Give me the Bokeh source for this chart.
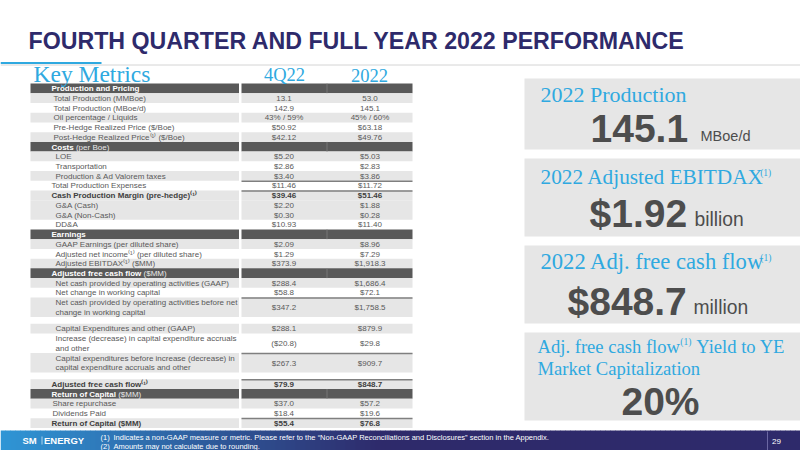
from bokeh.plotting import figure
from bokeh.models import ColumnDataSource
from bokeh.core.properties import value
from bokeh.embed import file_html
from bokeh.resources import INLINE

# ---------------------------------------------------------------
# data
# ---------------------------------------------------------------
title = "FOURTH QUARTER AND FULL YEAR 2022 PERFORMANCE"
table_title = "Key Metrics"
col_heads = ["4Q22", "2022"]

# "|" splits a bold lead-in from a plain tail in section headers
labels = [
    "Production and Pricing",
    "Total Production (MMBoe)",
    "Total Production (MBoe/d)",
    "Oil percentage / Liquids",
    "Pre-Hedge Realized Price ($/Boe)",
    "Post-Hedge Realized Price⁽¹⁾ ($/Boe)",
    "Costs| (per Boe)",
    "LOE",
    "Transportation",
    "Production & Ad Valorem taxes",
    "Total Production Expenses",
    "Cash Production Margin (pre-hedge)⁽¹⁾",
    "G&A (Cash)",
    "G&A (Non-Cash)",
    "DD&A",
    "Earnings",
    "GAAP Earnings (per diluted share)",
    "Adjusted net income⁽¹⁾ (per diluted share)",
    "Adjusted EBITDAX⁽¹⁾ ($MM)",
    "Adjusted free cash flow| ($MM)",
    "Net cash provided by operating activities (GAAP)",
    "Net change in working capital",
    "Net cash provided by operating activities before net\nchange in working capital",
    "",
    "Capital Expenditures and other (GAAP)",
    "Increase (decrease) in capital expenditure accruals\nand other",
    "Capital expenditures before increase (decrease) in\ncapital expenditure accruals and other",
    "",
    "Adjusted free cash flow⁽¹⁾",
    "Return of Capital| ($MM)",
    "Share repurchase",
    "Dividends Paid",
    "Return of Capital ($MM)",
]
q4_values = ["", "13.1", "142.9", "43% / 59%", "$50.92", "$42.12",
             "", "$5.20", "$2.86", "$3.40", "$11.46", "$39.46", "$2.20", "$0.30", "$10.93",
             "", "$2.09", "$1.29", "$373.9",
             "", "$288.4", "$58.8", "$347.2", "", "$288.1", "($20.8)", "$267.3", "", "$79.9",
             "", "$37.0", "$18.4", "$55.4"]
fy_values = ["", "53.0", "145.1", "45% / 60%", "$63.18", "$49.76",
             "", "$5.03", "$2.83", "$3.86", "$11.72", "$51.46", "$1.88", "$0.28", "$11.40",
             "", "$8.96", "$7.29", "$1,918.3",
             "", "$1,686.4", "$72.1", "$1,758.5", "", "$879.9", "$29.8", "$909.7", "", "$848.7",
             "", "$57.2", "$19.6", "$76.8"]

# "^" marks where a superscript (1) sits in the panel headings
panel_titles = ["2022 Production", "2022 Adjusted EBITDAX^", "2022 Adj. free cash flow^",
                "Adj. free cash flow^ Yield to YE\nMarket Capitalization"]
panel_values = ["145.1", "$1.92", "$848.7", "20%"]
panel_units = ["MBoe/d", "billion", "million", ""]

footnotes = ["Indicates a non-GAAP measure or metric. Please refer to the \u201cNon-GAAP Reconciliations and Disclosures\u201d section in the Appendix.",
             "Amounts may not calculate due to rounding."]
page_no = "29"

# ---------------------------------------------------------------
# table layout (row type, shading, rules, indent)
# ---------------------------------------------------------------
kinds = ["H", "r", "r", "r", "r", "r",
         "H", "r", "r", "r", "r", "b", "r", "r", "r",
         "H", "r", "r", "r",
         "H", "r", "r", "r", "s", "r", "r", "r", "s", "b",
         "H", "r", "r", "b"]
shaded = [0, 1, 0, 1, 0, 1,
          0, 1, 0, 1, 0, 1, 1, 1, 0,
          0, 1, 0, 1,
          0, 1, 0, 1, 0, 1, 0, 1, 0, 1,
          0, 1, 0, 1]
rule_rows = {10, 11, 22, 26, 28, 32}
indents = [51, 53, 53, 53, 53, 53,
           51, 55, 55, 55, 51, 51, 55, 55, 55,
           51, 55, 55, 55,
           51, 55, 55, 55, 55, 55, 55, 55, 55, 51,
           51, 52, 52, 51]

BLUE = "#2fa9e0"
NAVY = "#2e2a6b"
TXT = "#595959"
DARK = "#4d4d4d"
PANEL = "#e6e6e6"

p = figure(width=800, height=450, x_range=(0, 800), y_range=(450, 0),
           output_backend="svg", toolbar_location=None, min_border=0,
           background_fill_color="white", border_fill_color="white")
p.axis.visible = False
p.grid.visible = False
p.outline_line_color = None


def put(x, y, s, size, color=TXT, font="Liberation Sans", style="normal", align="left"):
    p.text(x=[x], y=[y], text=[s], text_font=value(font), text_font_size=f"{size:.2f}px",
           text_color=color, text_font_style=style, text_align=align,
           text_baseline="middle")


def put_base(x, yb, s, size, **kw):
    # place by baseline, using the middle of the em box
    put(x, yb - 0.31 * size, s, size, **kw)


BOLD_W = {"a": .556, "b": .611, "c": .556, "d": .611, "e": .556, "f": .333, "g": .611,
          "h": .611, "i": .278, "j": .278, "k": .556, "l": .278, "m": .889, "n": .611,
          "o": .611, "p": .611, "q": .611, "r": .389, "s": .556, "t": .333, "u": .611,
          "v": .556, "w": .778, "x": .556, "y": .556, "z": .5, " ": .278}
SERIF_W = {" ": .25, ".": .25, "A": .722, "B": .667, "C": .667, "D": .722, "E": .611,
           "I": .333, "M": .889, "P": .556, "T": .611, "X": .722, "Y": .722, "a": .444,
           "b": .5, "c": .444, "d": .5, "e": .444, "f": .333, "h": .5, "i": .278, "j": .278,
           "k": .5, "l": .278, "n": .5, "o": .5, "p": .5, "r": .333, "s": .389, "t": .278,
           "u": .5, "w": .722, "z": .444, "(": .333, ")": .333, "2": .45, "0": .45}


def bold_width(s, size):
    return sum(BOLD_W.get(c, .722) for c in s) * size


def serif_width(s, size):
    return sum(SERIF_W.get(c, .5) for c in s) * size


# ---------------------------------------------------------------
# title
# ---------------------------------------------------------------
put_base(28, 48, title, 23.2, color=NAVY, style="bold")
p.segment(x0=[0], y0=[64.5], x1=[800], y1=[64.5], line_color="#d4d4d4", line_width=1)
p.segment(x0=[0], y0=[62.5], x1=[101], y1=[62.5], line_color=BLUE, line_width=2)

# ---------------------------------------------------------------
# table
# ---------------------------------------------------------------
ROW_H = 9.73
TOP = 83.0
LBL = (30, 238.5)
VAL = (241, 412)
C2, C3 = 283.5, 369.5

tops, bots = [], []
y = TOP
for i, lab in enumerate(labels):
    if kinds[i] == "s":
        h = 6.8
    elif "\n" in lab:
        h = 2 * ROW_H
    else:
        h = ROW_H
    tops.append(y)
    bots.append(y + h)
    y += h

bg = dict(left=[], right=[], top=[], bottom=[], color=[])
for i in range(len(labels)):
    if kinds[i] == "H":
        col = "#595959"
    elif shaded[i]:
        col = PANEL
    else:
        continue
    for (x0, x1) in (LBL, VAL):
        bg["left"].append(x0)
        bg["right"].append(x1)
        bg["top"].append(tops[i])
        bg["bottom"].append(bots[i])
        bg["color"].append(col)
p.quad(left="left", right="right", top="top", bottom="bottom", fill_color="color",
       line_color=None, source=ColumnDataSource(bg))

# thin separators inside the dark header bars
hdr = [i for i in range(len(labels)) if kinds[i] == "H"]
p.segment(x0=[326.5] * len(hdr), x1=[326.5] * len(hdr), y0=[tops[i] for i in hdr],
          y1=[bots[i] for i in hdr], line_color="#7d7d7d", line_width=0.8)

# rules above totals
rr = sorted(rule_rows)
p.segment(x0=[VAL[0]] * len(rr), x1=[VAL[1]] * len(rr), y0=[tops[i] + 0.4 for i in rr],
          y1=[tops[i] + 0.4 for i in rr], line_color="#7f7f7f", line_width=1.5)

reg = dict(x=[], y=[], text=[], align=[])
bld = dict(x=[], y=[], text=[], align=[])
for i, lab in enumerate(labels):
    k = kinds[i]
    if k == "s":
        continue
    cy = (tops[i] + bots[i]) / 2 + 0.3
    if k == "H":
        head, _, tail = lab.partition("|")
        put(indents[i], cy, head, 8, color="white", style="bold")
        if tail:
            put(indents[i] + bold_width(head + " ", 8), cy, tail.strip(), 8, color="#e8e8e8")
        continue
    tgt = bld if k == "b" else reg
    lines = lab.split("\n")
    if len(lines) == 1:
        tgt["x"].append(indents[i]); tgt["y"].append(cy)
        tgt["text"].append(lab); tgt["align"].append("left")
    else:
        for j, ln in enumerate(lines):
            tgt["x"].append(indents[i]); tgt["y"].append(cy + (j - 0.5) * ROW_H)
            tgt["text"].append(ln); tgt["align"].append("left")
    for cx, v in ((C2, q4_values[i]), (C3, fy_values[i])):
        tgt["x"].append(cx); tgt["y"].append(cy)
        tgt["text"].append(v); tgt["align"].append("center")

p.text(x="x", y="y", text="text", text_align="align", source=ColumnDataSource(reg),
       text_font=value("Liberation Sans"), text_font_size="8px", text_color=TXT,
       text_baseline="middle")
p.text(x="x", y="y", text="text", text_align="align", source=ColumnDataSource(bld),
       text_font=value("Liberation Sans"), text_font_size="8px", text_color="#404040",
       text_font_style="bold", text_baseline="middle")

# table headings drawn over the table so descenders stay visible
put_base(33, 80.5, table_title, 23.5, color=BLUE, font="Liberation Serif")
put_base(284, 80.5, col_heads[0], 18.5, color=BLUE, font="Liberation Serif", align="center")
put_base(369, 80.5, col_heads[1], 18.5, color=BLUE, font="Liberation Serif", align="center")

# ---------------------------------------------------------------
# right-hand highlight panels
# ---------------------------------------------------------------
box_top = [78, 158, 245, 332]
box_bot = [149, 236, 323, 420]
p.quad(left=[524] * 4, right=[800] * 4, top=box_top, bottom=box_bot,
       fill_color=PANEL, line_color=None)

title_base = [[101], [183], [268], [352, 374]]
title_size = [22, 21.3, 22.6, 18.6]
title_x = [540, 540, 540, 537]
num_x = [590, 589, 567, 660]
num_base = [140, 225, 313, 413]
unit_x = [700, 694, 693, 0]
for k in range(4):
    ts = title_size[k]
    for ln, yb in zip(panel_titles[k].split("\n"), title_base[k]):
        x = title_x[k]
        parts = ln.split("^")
        for n, part in enumerate(parts):
            if part.startswith(" "):
                x += serif_width(" ", ts)
                part = part.strip()
            if part:
                put_base(x, yb, part, ts, color=BLUE, font="Liberation Serif")
                x += serif_width(part, ts)
            if n < len(parts) - 1:
                put_base(x + 0.3, yb - 7.5, "(1)", 9.5, color=BLUE, font="Liberation Serif")
                x += serif_width("(1)", 9.5) + 0.5
    align = "center" if not panel_units[k] else "left"
    put_base(num_x[k], num_base[k], panel_values[k], 39, color=DARK, style="bold", align=align)
    if panel_units[k]:
        usize = 14.5 if k == 0 else 19.3
        put_base(unit_x[k], num_base[k], panel_units[k], usize, color=DARK)

# ---------------------------------------------------------------
# footer band (horizontal blue -> navy fade)
# ---------------------------------------------------------------
c0 = (0x2f, 0x96, 0xd6)
c1 = (0x2e, 0x2a, 0x6b)
strips = dict(left=[], right=[], color=[])
step = 5
for x0 in range(0, 800, step):
    t = min(1.0, (x0 + step / 2) / 380)
    rgb = tuple(int(round(a + (b - a) * t)) for a, b in zip(c0, c1))
    strips["left"].append(x0)
    strips["right"].append(x0 + step + 0.5)
    strips["color"].append("#%02x%02x%02x" % rgb)
p.quad(left="left", right="right", top=430, bottom=450, fill_color="color",
       line_color=None, source=ColumnDataSource(strips))
p.segment(x0=[767], x1=[767], y0=[431], y1=[450], line_color="#6b67a3", line_width=1)

put(22, 440, "SM", 9.5, color="white", style="bold")
p.segment(x0=[41.5], x1=[41.5], y0=[436], y1=[444], line_color="#cfe6f5", line_width=0.8)
put(43.5, 440, "ENERGY", 9.5, color="white", style="bold")

put(100, 436.5, "(1)", 7.5, color="white")
put(113, 436.5, footnotes[0], 7.5, color="white")
put(100, 446, "(2)", 7.5, color="white")
put(113, 446, footnotes[1], 7.5, color="white")
put(776, 441, page_no, 8, color="white", align="center")

open("out.html", "w").write(file_html(p, INLINE))
